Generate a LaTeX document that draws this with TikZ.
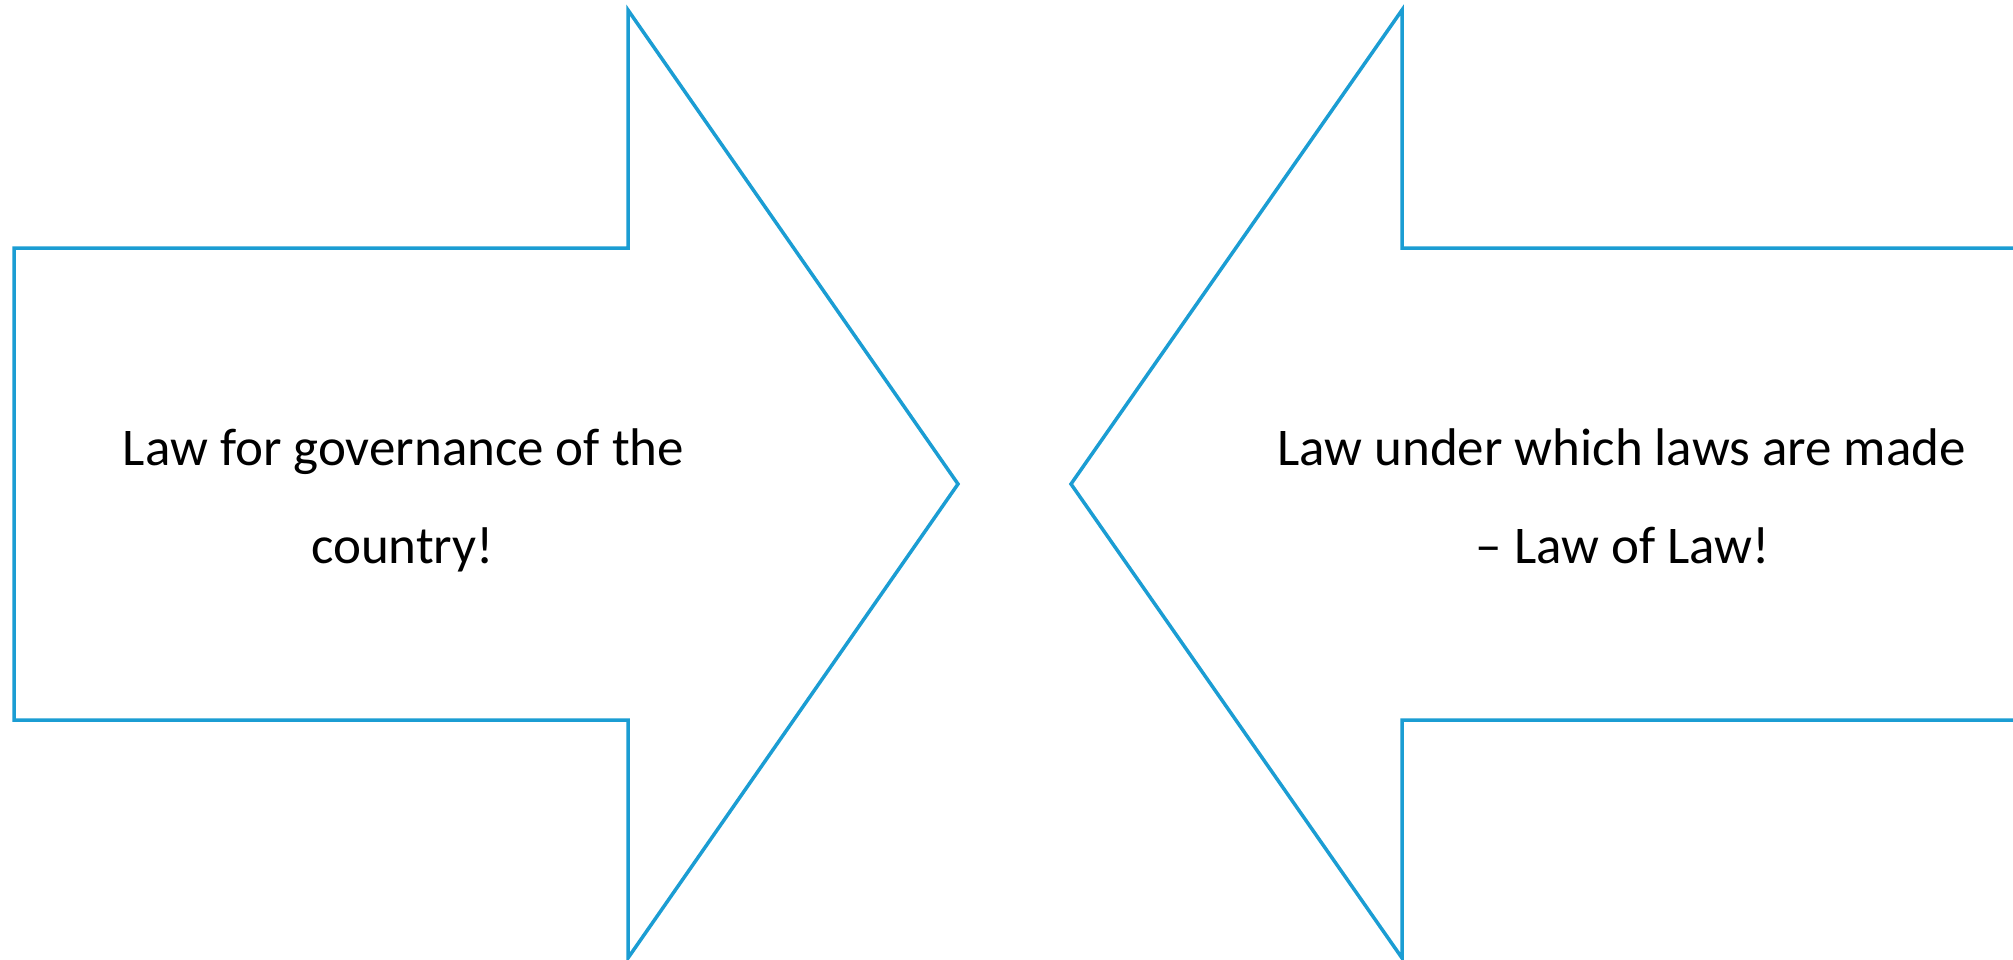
\documentclass[tikz,border=0pt]{standalone}
\usepackage{fontspec}
\setmainfont{Carlito}
\definecolor{arrowblue}{RGB}{27,157,211}
\begin{document}
\begin{tikzpicture}[x=1pt,y=-1pt,
  arrowshape/.style={draw=arrowblue,line width=3.5pt,line join=miter,fill=white},
  lbl/.style={anchor=base,inner sep=0pt,font=\fontsize{53}{60}\selectfont,text=black}]
\clip (0,0) rectangle (2013,959);
% left arrow (pointing right)
\draw[arrowshape] (14,248) -- (628,248) -- (628,10) -- (958,484) -- (628,958) -- (628,720) -- (14,720) -- cycle;
% right arrow (pointing left)
\draw[arrowshape] (2030,248) -- (1402,248) -- (1402,10) -- (1071,484) -- (1402,958) -- (1402,720) -- (2030,720) -- cycle;
% texts
\node[lbl] (l1) at (403.5,465) {Law for governance of the};
\node[lbl] (l2) at (402.5,563) {country!};
\node[lbl] (r1) at (1621.5,465) {Law under which laws are made};
\node[lbl] (r2) at (1623,563) {– Law of Law!};
\end{tikzpicture}
\end{document}
